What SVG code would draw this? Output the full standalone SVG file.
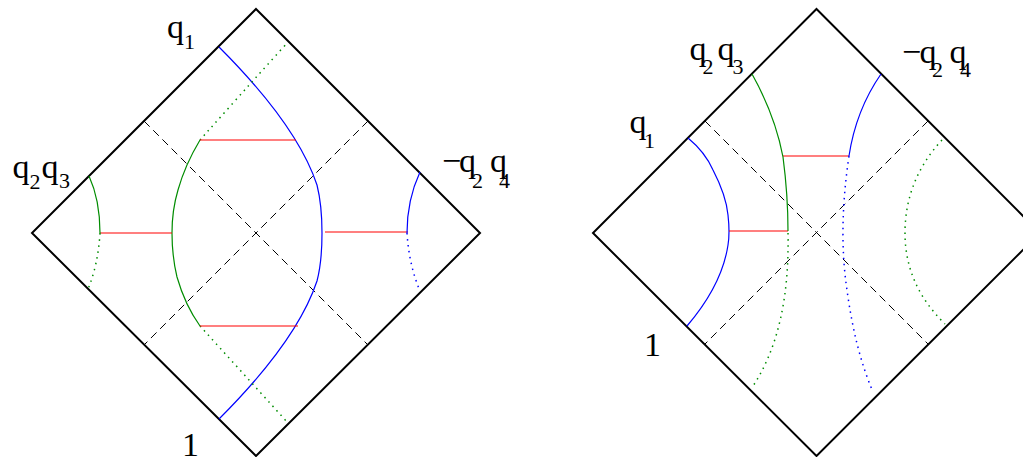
<svg xmlns="http://www.w3.org/2000/svg" width="1023" height="457" viewBox="0 0 1023 457">
<style>
.frame{fill:none;stroke:#000;stroke-width:2;stroke-linejoin:miter}
.dash{fill:none;stroke:#000;stroke-width:1;stroke-dasharray:8,5}
.g{fill:none;stroke:#008c00;stroke-width:1.2}
.b{fill:none;stroke:#0000ff;stroke-width:1.2}
.r{fill:none;stroke:#ff0000;stroke-width:1.2}
.gd{fill:none;stroke:#008c00;stroke-width:1.5;stroke-dasharray:1.5,4.5}
.bd{fill:none;stroke:#0000ff;stroke-width:1.5;stroke-dasharray:1.5,4.5}
text{font-family:"Liberation Serif","Times New Roman",serif;fill:#000}
.big{font-size:34px}
.sub{font-size:22px}
</style>
<rect width="1023" height="457" fill="#fff"/>
<g id="left-diagram">
  <polygon class="frame" points="256,9 480,233 256,456 32,233"/>
  <path class="dash" d="M144,121 L368,345 M368,121 L144,345"/>
  <path class="b" d="M219,47 Q297,125 317,185 Q322,205 322,233 Q322,262 317,281 Q297,341 219,419"/>
  <path class="g" d="M200,140 Q185,165 178,190 Q172,210 172,233 Q172,256 177,277 Q185,305 200,326"/>
  <path class="gd" d="M200,140 Q240,95 288,42 M200,326 Q240,370 288,423"/>
  <path class="r" d="M200,140 H296 M200,326 H298 M100,233 H172 M325,232 H408"/>
  <path class="g" d="M89,176 Q100,200 100,233"/>
  <path class="gd" d="M100,233 Q98,265 88,289"/>
  <path class="b" d="M420,172 Q407,200 407,233"/>
  <path class="bd" d="M407,233 Q409,265 420,291"/>
  <text class="big" x="167" y="38">q</text><text class="sub" x="184" y="49">1</text>
  <text class="big" x="12.5" y="178">q</text><text class="sub" x="29.5" y="189">2</text>
  <text class="big" x="41.5" y="178">q</text><text class="sub" x="59" y="188">3</text>
  <text class="big" x="442" y="172">−</text><text class="big" x="459" y="172">q</text><text class="sub" x="472" y="188">2</text>
  <text class="big" x="490" y="172">q</text><text class="sub" x="499" y="188">4</text>
  <text class="big" x="182" y="456">1</text>
</g>
<g id="right-diagram">
  <polygon class="frame" points="816.5,9 1040,233 816.5,456 593,233"/>
  <path class="dash" d="M705,121 L928,344 M928,121 L705,344"/>
  <path class="b" d="M688,138 Q705,152 713,170 Q726,195 728,215 Q730,233 728,245 Q722,285 687,326"/>
  <path class="r" d="M729,231 H788 M783,156 H849"/>
  <path class="g" d="M752,74 Q775,115 783,157 Q788,195 788,231"/>
  <path class="gd" d="M788,233 Q790,330 753,386"/>
  <path class="b" d="M881,74 Q856,110 849,156"/>
  <path class="bd" d="M849,156 Q838,230 847,290 Q855,350 873,392"/>
  <path class="gd" d="M942,140 Q905,180 905,233 Q905,285 945,324"/>
  <text class="big" x="629.5" y="133">q</text><text class="sub" x="644" y="148">1</text>
  <text class="big" x="689.5" y="60">q</text><text class="sub" x="702.5" y="74">2</text>
  <text class="big" x="717.5" y="60">q</text><text class="sub" x="732.5" y="74">3</text>
  <text class="big" x="902" y="63">−</text><text class="big" x="919.5" y="63">q</text><text class="sub" x="932" y="77">2</text>
  <text class="big" x="949.5" y="63">q</text><text class="sub" x="960" y="77">4</text>
  <text class="big" x="644" y="356">1</text>
</g>
</svg>
